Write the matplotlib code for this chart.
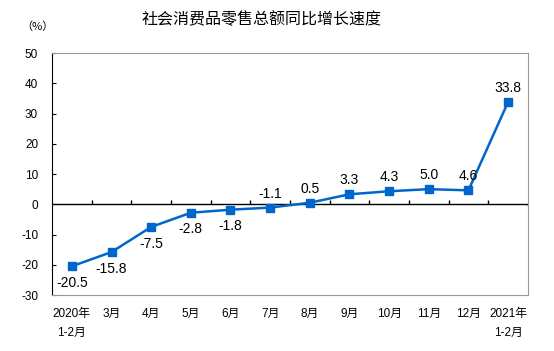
import matplotlib.pyplot as plt
import numpy as np

plt.rcParams['font.family'] = ['Liberation Sans', 'Noto Sans CJK SC']

months = ["2020年\n1-2月", "3月", "4月", "5月", "6月", "7月", "8月", "9月",
          "10月", "11月", "12月", "2021年\n1-2月"]
growth = [-20.5, -15.8, -7.5, -2.8, -1.8, -1.1, 0.5, 3.3, 4.3, 5.0, 4.6, 33.8]
yticks = [-30, -20, -10, 0, 10, 20, 30, 40, 50]

fig = plt.figure(figsize=(5.54, 3.51), dpi=100)
ax = fig.add_axes([0.0939, 0.1595, 0.859, 0.6895])

x = np.arange(len(growth))
ax.plot(x, growth, color='#0066CC', lw=1.8, marker='s', ms=5.5, zorder=3)

# data labels: below for the first negatives, above for the rest
for i, v in enumerate(growth):
  if v < -1.5:
    ax.annotate(f"{v:.1f}", (i, v), xytext=(0, -7), textcoords='offset points',
                ha='center', va='top', fontsize=10)
  else:
    ax.annotate(f"{v:.1f}", (i, v), xytext=(0, 5), textcoords='offset points',
                ha='center', va='bottom', fontsize=10)

ax.set_xlim(-0.5, len(growth) - 0.5)
ax.set_ylim(-30, 50)
ax.set_yticks(yticks)
ax.set_yticklabels([str(t) for t in yticks], fontsize=8.5)
ax.tick_params(axis='y', direction='in', length=3, pad=10, color='black')
ax.set_xticks(x)
ax.set_xticklabels(months, fontsize=8.5, linespacing=1.8)
ax.tick_params(axis='x', length=0, pad=9)

# zero axis with category ticks
ax.axhline(0, color='black', lw=1, zorder=2)
ax.vlines(x[:-1] + 0.5, 0, 1.3, color='black', lw=1)
ax.vlines(len(growth) - 0.5, -0.6, 0, color='black', lw=1)

for s in ['top', 'right', 'bottom']:
  ax.spines[s].set_color('#999999')
ax.spines['left'].set_color('black')

fig.text(0.473, 0.945, "社会消费品零售总额同比增长速度", ha='center', va='center',
         fontsize=11.5, family=['Noto Sans CJK SC'])
fig.text(0.068, 0.925, "（%）", ha='center', va='center', fontsize=8,
         family=['Noto Sans CJK SC'])

fig.savefig("out.png", dpi=100)
